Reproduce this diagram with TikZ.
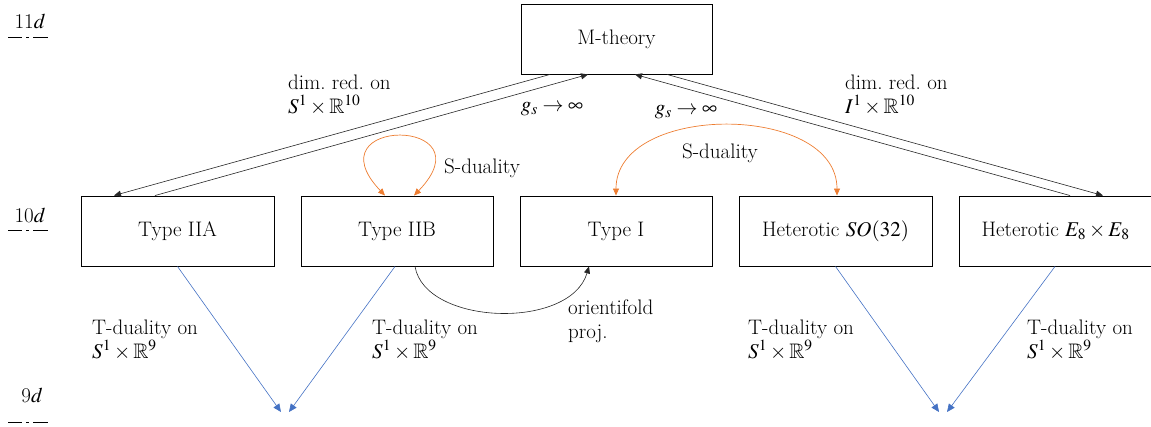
\documentclass[tikz,border=0pt]{standalone}
\usepackage{mathptmx}
\usepackage{amssymb}
\usetikzlibrary{arrows.meta,calc}
\definecolor{sorange}{HTML}{ED7D31}
\definecolor{tblue}{HTML}{4472C4}
\begin{document}
\begin{tikzpicture}[x=1pt,y=1pt,
  font=\rmfamily\fontsize{21}{24}\selectfont,
  box/.style={draw, line width=0.9pt, minimum width=192pt, minimum height=70pt, inner sep=0pt},
  conn/.style={draw=black!85, line width=0.6pt, -{Triangle[length=7pt,width=6pt]}},
  tdual/.style={draw=tblue, line width=0.6pt, -{Triangle[length=8pt,width=7pt]}},
  sdual/.style={draw=sorange, line width=0.7pt, {Triangle[length=7pt,width=6pt]}-{Triangle[length=7pt,width=6pt]}},
  lbl/.style={inner sep=0pt, align=left, anchor=west},
  dimline/.style={line width=1pt, dash pattern=on 14pt off 4pt on 3pt off 4pt on 15pt},
]
\useasboundingbox (0,0) rectangle (1151,-427);

% boxes
\node[box, minimum width=191pt] (M) at (616.5,-39) {M-theory};
\node[box, minimum width=193pt] (IIA) at (177.5,-231) {Type IIA};
\node[box] (IIB) at (397,-231) {Type IIB};
\node[box] (I) at (616,-231) {Type I};
\node[box, minimum width=193pt] (SO) at (835.5,-231) {Heterotic $SO(32)$};
\node[box, minimum width=193pt] (E8) at (1055.5,-231) {Heterotic $E_8\times E_8$};

% M-theory connections
\draw[conn] ([xshift=-66.5pt]M.south) -- ([xshift=-63.5pt]IIA.north);
\draw[conn] ([xshift=-22.5pt]IIA.north) -- ([xshift=-28.5pt]M.south);
\draw[conn] ([xshift=50.5pt]M.south) -- ([xshift=47.5pt]E8.north);
\draw[conn] ([xshift=14.5pt]E8.north) -- ([xshift=18.5pt]M.south);

% T-duality
\coordinate (tA) at (281,-412);
\coordinate (tB) at (289,-412);
\coordinate (tC) at (939,-412);
\coordinate (tD) at (947,-412);
\draw[tdual] (IIA.south) -- (tA);
\draw[tdual] ([xshift=-2pt]IIB.south) -- (tB);
\draw[tdual] (SO.south) -- (tC);
\draw[tdual] ([xshift=-0.5pt]E8.south) -- (tD);

% S-duality
\draw[sdual] ([xshift=-12pt]IIB.north) .. controls +(-75,79) and +(76,79) .. ([xshift=17pt]IIB.north);
\draw[sdual] (I.north) .. controls +(0,93) and +(0,93) .. ([xshift=1.5pt]SO.north);

% orientifold
\draw[conn] ([xshift=18pt]IIB.south) .. controls +(10,-59) and +(-19,-64) .. ([xshift=-27pt]I.south);

% labels
\node[lbl] (dl) at (288,-95) {dim.\ red.\ on\\$S^1\times\mathbb{R}^{10}$};
\node (g1) at (552,-109) {$g_s\to\infty$};
\node (g2) at (686,-112) {$g_s\to\infty$};
\node[lbl] (dr) at (845,-95) {dim.\ red.\ on\\$I^1\times\mathbb{R}^{10}$};
\node[lbl] (s1) at (444,-168) {S-duality};
\node (s2) at (720,-153) {S-duality};
\node[lbl] (t1) at (92,-340) {T-duality on\\$S^1\times\mathbb{R}^9$};
\node[lbl] (t2) at (372,-340) {T-duality on\\$S^1\times\mathbb{R}^9$};
\node[lbl] (t3) at (748,-340) {T-duality on\\$S^1\times\mathbb{R}^9$};
\node[lbl] (t4) at (1027,-340) {T-duality on\\$S^1\times\mathbb{R}^9$};
\node[lbl] (op) at (568,-321) {orientifold\\proj.};

% dimension markers
\node (d11) at (30,-21) {11$d$};
\draw[dimline] (8,-38) -- (50,-38);
\node (d10) at (30,-215) {10$d$};
\draw[dimline] (8,-231) -- (50,-231);
\node (d9) at (32,-395) {9$d$};
\draw[dimline] (8,-422) -- (50,-422);
\end{tikzpicture}
\end{document}
